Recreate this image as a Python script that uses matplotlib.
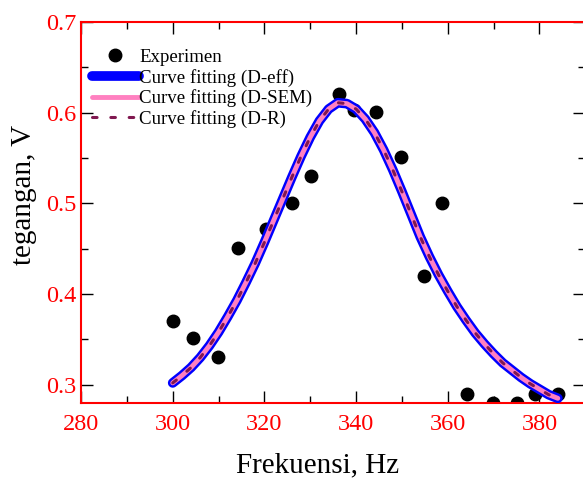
import matplotlib
matplotlib.use('Agg')
import matplotlib.pyplot as plt
from matplotlib.ticker import MultipleLocator

plt.rcParams['font.family'] = ['Liberation Serif', 'DejaVu Serif']

# Experimental points
freq_exp = [300.1, 304.4, 309.9, 314.2, 320.3, 326.0, 330.2, 336.3, 339.5, 344.3,
            349.8, 354.8, 358.7, 364.2, 369.9, 375.1, 379.0, 384.0]
volt_exp = [0.370, 0.351, 0.331, 0.451, 0.472, 0.500, 0.530, 0.621, 0.603, 0.601,
            0.551, 0.420, 0.500, 0.290, 0.280, 0.280, 0.290, 0.290]

# Fitted curve
freq_fit = [300, 302, 304, 306, 308, 310, 312, 314, 316, 318, 320, 322, 324, 326,
            328, 330, 332, 334, 336, 338, 340, 342, 344, 346, 348, 350, 352, 354,
            356, 358, 360, 362, 364, 366, 368, 370, 372, 374, 376, 378, 380, 382,
            384]
volt_fit = [0.302, 0.310, 0.319, 0.330, 0.343, 0.358, 0.375, 0.393, 0.413, 0.434,
            0.457, 0.481, 0.505, 0.529, 0.552, 0.573, 0.591, 0.604, 0.611, 0.610,
            0.604, 0.593, 0.578, 0.559, 0.537, 0.513, 0.488, 0.463, 0.441, 0.421,
            0.403, 0.386, 0.371, 0.357, 0.345, 0.334, 0.324, 0.316, 0.308, 0.301,
            0.295, 0.289, 0.285]

fig = plt.figure(figsize=(5.83, 4.79), dpi=100)
ax = fig.add_axes([0.139, 0.159, 0.865, 0.795])

ax.plot(freq_exp, volt_exp, 'o', color='black', ms=9, label='Experimen', zorder=2)
ax.plot(freq_fit, volt_fit, color='#0000ff', lw=7, solid_capstyle='round',
        solid_joinstyle='round', label='Curve fitting (D-eff)', zorder=3)
ax.plot(freq_fit, volt_fit, color='#ff80c0', lw=3.5, solid_capstyle='round',
        solid_joinstyle='round', label='Curve fitting (D-SEM)', zorder=4)
ax.plot(freq_fit, volt_fit, color='#801850', lw=2.2, linestyle=(0, (1.5, 4.5)),
        dash_capstyle='round', label='Curve fitting (D-R)', zorder=5)

ax.set_xlim(280, 390)
ax.set_ylim(0.28, 0.7)
ax.xaxis.set_major_locator(MultipleLocator(20))
ax.xaxis.set_minor_locator(MultipleLocator(10))
ax.yaxis.set_minor_locator(MultipleLocator(0.05))
ax.set_yticks([0.3, 0.4, 0.5, 0.6, 0.7])
ax.set_yticklabels(['0.3', '0.4', '0.5', '0.6', '0.7'])

for s in ax.spines.values():
    s.set_color('red')
    s.set_linewidth(1.5)
ax.tick_params(which='both', direction='in', top=True, right=True, color='black',
               labelcolor='red', labelsize=17.5)
ax.tick_params(which='major', length=8.5, width=1)
ax.tick_params(which='minor', length=5, width=1)
ax.tick_params(axis='x', pad=8)
ax.tick_params(axis='y', pad=3)

ax.set_xlabel('Frekuensi, Hz', fontsize=21)
ax.set_ylabel('tegangan, V', fontsize=21)
ax.xaxis.set_label_coords(0.47, -0.13)
ax.yaxis.set_label_coords(-0.087, 0.546)

ax.legend(loc='upper left', bbox_to_anchor=(-0.005, 0.965), frameon=False, fontsize=13.6,
          handlelength=2.5, handletextpad=0.0, labelspacing=0.15, borderaxespad=0.3)

plt.savefig('out.png', dpi=100)
